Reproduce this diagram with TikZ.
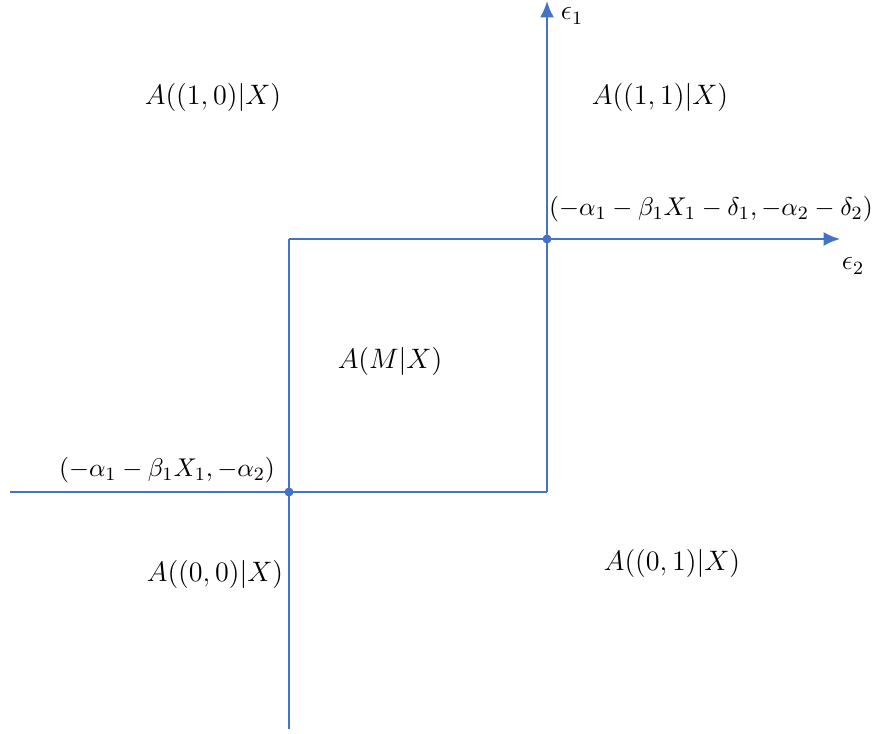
\documentclass[tikz,border=0pt]{standalone}
\usepackage{amsmath}
\usetikzlibrary{arrows.meta, positioning}
\definecolor{axisblue}{RGB}{68,114,196}
\tikzset{
  bline/.style={axisblue, line width=0.9pt},
  lbl/.style={font=\large, inner sep=1pt},
  ptlbl/.style={font=\fontsize{10.8}{13}\selectfont, inner sep=1pt}
}

\begin{document}
\begin{tikzpicture}[x=0.015cm, y=-0.015cm]
      \useasboundingbox (0,0) rectangle (873,734);
      % corner points and line ends
      \coordinate (hi) at (547,239);
      \coordinate (lo) at (289,492);
      \coordinate (corner) at (547,492);
      \coordinate (topleft) at (289,239);
      \coordinate (e1tip) at (547,1);
      \coordinate (e2tip) at (840,239);
      \coordinate (leftend) at (10,492);
      \coordinate (bottomend) at (289,729);

      \draw[bline, -{Latex[length=7pt,width=6pt]}] (corner) -- (e1tip);
      \draw[bline, -{Latex[length=7pt,width=6pt]}] (topleft) -- (e2tip);
      \draw[bline] (leftend) -- (corner);
      \draw[bline] (topleft) -- (bottomend);
      \fill[axisblue] (hi) circle (4.5);
      \fill[axisblue] (lo) circle (4.5);

      \node[lbl] (e1) at (572,16) {$\epsilon_1$};
      \node[lbl] (e2) at (853,266) {$\epsilon_2$};
      \node[lbl] (a10) at (213,97) {$A((1,0)|X)$};
      \node[lbl] (a11) at (660,97) {$A((1,1)|X)$};
      \node[ptlbl] (phi) at (711,209) {$(-\alpha_1-\beta_1X_1-\delta_1,-\alpha_2-\delta_2)$};
      \node[lbl] (am) at (390,361) {$A(M|X)$};
      \node[ptlbl] (plo) at (167,470) {$(-\alpha_1-\beta_1X_1,-\alpha_2)$};
      \node[lbl] (a00) at (215,574) {$A((0,0)|X)$};
      \node[lbl] (a01) at (672,563) {$A((0,1)|X)$};
\end{tikzpicture}
\end{document}
